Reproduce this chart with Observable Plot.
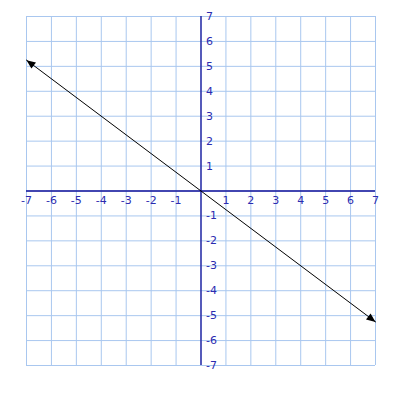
<!DOCTYPE html>
<html>
<head>
<meta charset="utf-8">
<script src="https://cdn.jsdelivr.net/npm/d3@7"></script>
<script src="https://cdn.jsdelivr.net/npm/@observablehq/plot@0.6"></script>
<style>
  html, body { margin: 0; padding: 0; background: #fff; }
  #chart svg { display: block; }
</style>
</head>
<body>
<div id="chart"></div>
<script>
const ticks = [-7, -6, -5, -4, -3, -2, -1, 0, 1, 2, 3, 4, 5, 6, 7];
const tickLabels = ticks.filter(d => d !== 0);
const lineX = [-7, 7];
const lineY = [5.25, -5.25];

const pts = lineX.map((x, i) => ({x, y: lineY[i]}));
// direction angles (degrees, clockwise from up) for arrowheads in screen space
const dxs = lineX[1] - lineX[0], dys = -(lineY[1] - lineY[0]);
const endAngle = Math.atan2(dxs, -dys) * 180 / Math.PI;
const startAngle = endAngle + 180;

const arrowHead = {
  draw(context) {
    context.moveTo(0, 0);
    context.lineTo(-3.8, 9);
    context.lineTo(3.8, 9);
    context.closePath();
  }
};

const gridColor = "#a9c7ef";
const axisColor = "#12129a";
const textColor = "#2b2bb0";

const chart = Plot.plot({
  width: 400,
  height: 400,
  marginLeft: 26,
  marginRight: 25,
  marginTop: 16,
  marginBottom: 35,
  style: {background: "#fff", fontFamily: "'DejaVu Sans', Verdana, sans-serif"},
  x: {domain: [-7, 7], axis: null},
  y: {domain: [-7, 7], axis: null},
  marks: [
    Plot.ruleX(ticks, {stroke: gridColor, strokeWidth: 1}),
    Plot.ruleY(ticks, {stroke: gridColor, strokeWidth: 1}),
    Plot.ruleX([0], {stroke: axisColor, strokeWidth: 1.3}),
    Plot.ruleY([0], {stroke: axisColor, strokeWidth: 1.3}),
    Plot.text(tickLabels, {x: d => d, y: 0, dy: 9, text: d => String(d), fill: textColor, fontSize: 11}),
    Plot.text(tickLabels, {x: 0, y: d => d, dx: 5, textAnchor: "start", text: d => String(d), fill: textColor, fontSize: 11}),
    Plot.line(pts, {x: "x", y: "y", stroke: "#000", strokeWidth: 1}),
    Plot.dot([pts[1]], {x: "x", y: "y", symbol: arrowHead, fill: "#000", stroke: "none", r: 4, rotate: endAngle}),
    Plot.dot([pts[0]], {x: "x", y: "y", symbol: arrowHead, fill: "#000", stroke: "none", r: 4, rotate: startAngle})
  ]
});
document.getElementById("chart").appendChild(chart);
</script>
</body>
</html>
